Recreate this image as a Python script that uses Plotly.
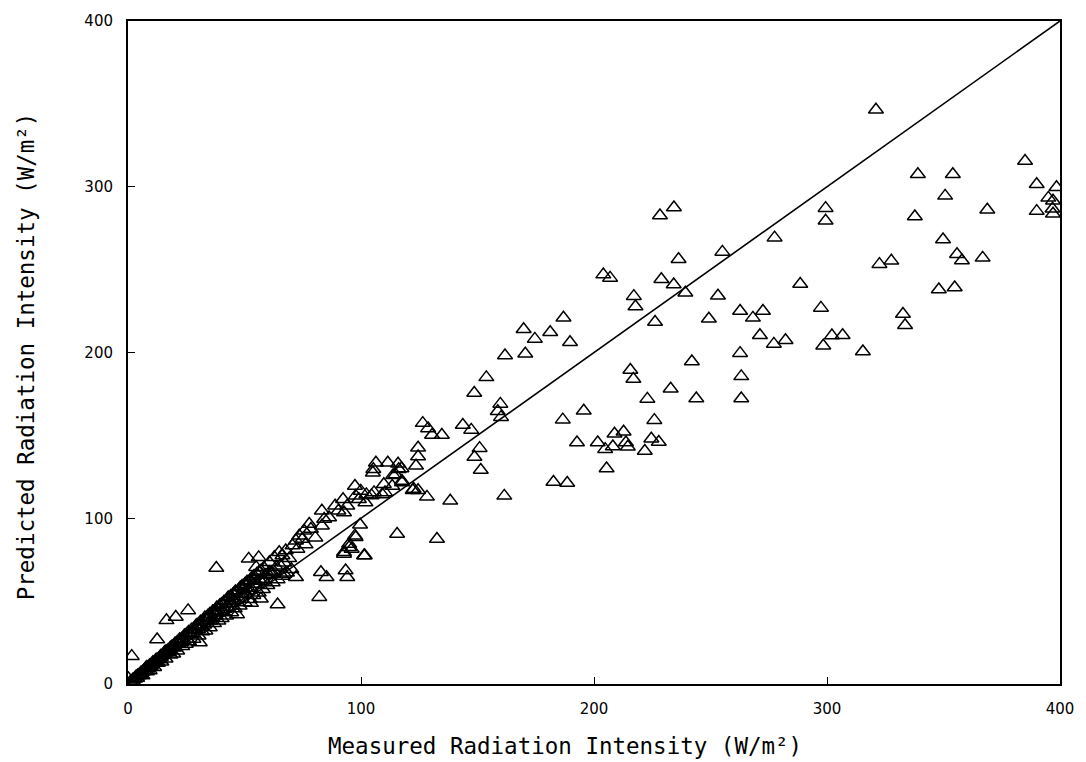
import plotly.graph_objects as go

# ---- Scattered observations: measured (x) and predicted (y), W/m^2 ----
measured_high = [
    321, 385, 390, 398.5, 395, 397, 390, 397, 396.8, 339,
    354, 350.7, 368.8, 337.7, 299.4, 299.4, 277.5, 349.8, 355.8, 357.9,
    366.8, 322.5, 327.6, 288.5, 348, 354.8, 297.4, 332.6, 333.5, 262.7,
    268.2, 272.5, 271.2, 277.2, 282.2, 298.4, 302.1, 306.7, 315.4, 262.7,
    263.2,
]
predicted_high = [
    346.5, 315.5, 301.5, 299.7, 293.3, 291.6, 285.3, 283.7, 286.7, 307.5,
    307.5, 294.5, 286.1, 282, 287.1, 279.5, 269.3, 268.2, 259.3, 255.5,
    257.1, 253.3, 255.3, 241.3, 238, 239.2, 226.9, 223.2, 216.4, 225,
    220.9, 225, 210.4, 205.2, 207.4, 204.1, 210.2, 210.4, 200.6, 199.6,
    185.6,
]

measured_mid = [
    228.3, 234.3, 236.3, 255.1, 204, 206.9, 228.9, 234.2, 239.2, 217.1,
    217.8, 253.2, 226.2, 249.3, 186.9, 169.8, 181.2, 174.6, 189.7, 161.8,
    170.5, 153.8, 148.6, 159.8, 158.7, 160.1, 242, 263.2, 215.6, 216.9,
    232.9, 222.9, 243.9, 195.6, 186.6, 225.9, 192.7, 201.6, 208.8, 212.7,
    213.7, 204.8, 208.1, 214.5, 221.8, 224.6, 227.8, 205.4, 182.6, 188.5,
    161.5, 126.5, 128.8, 130.5, 134.7, 143.7, 147.3, 150.9, 148.7, 151.4,
    124.5, 124.5, 123.6, 122.2, 124.5, 117.4, 117.6, 128.3, 138.3,
]
predicted_mid = [
    282.7, 287.5, 256.3, 260.7, 247, 245, 244.2, 241, 236, 234,
    227.8, 234.2, 218.4, 220.4, 221, 214, 212.2, 208.2, 206.2, 198.2,
    199.2, 185, 175.6, 169, 164.6, 161, 194.6, 172.2, 189.4, 184,
    178.1, 172, 172.2, 164.9, 159.5, 159.2, 145.7, 145.7, 151, 152.2,
    145.7, 141.7, 143.3, 143.1, 140.6, 148, 146, 130, 121.9, 121.3,
    113.5, 157.4, 154.2, 150.2, 150.2, 156.3, 153.3, 142.3, 137, 129.1,
    142.5, 137.3, 131.7, 116.9, 116.9, 130, 121.5, 112.9, 110.5,
]

measured_low = [
    106.4, 111.5, 115.9, 105.3, 116.2, 113.8, 109.8, 113.4, 97.4, 99.9,
    102.3, 104.5, 109.1, 115.5, 132.6, 99.6, 97.4, 94.9, 92.7, 101.6,
    93.4, 94.1, 82.8, 85.2, 82.1, 72.1, 64.2, 57.0, 52.8, 46.8,
    37.9, 51.8, 56.1, 25.8, 20.5, 16.5, 30.8, 12.5, 1.6, 0.2,
    122.6, 105.6, 110.3, 97.7, 99.1, 101.9, 105.1, 114.8, 117.6,
]
predicted_low = [
    133.5, 133.5, 132.9, 129.6, 129.6, 126, 120.5, 119.5, 119.5, 116.5,
    114.4, 113.8, 114.4, 90.5, 87.5, 96.1, 89.5, 84.5, 79.5, 77.5,
    68.5, 64.4, 67.4, 64.4, 52.4, 64.4, 48.0, 51.4, 48.8, 42.0,
    70.0, 75.5, 76.4, 44.4, 40.4, 38.4, 25.0, 26.8, 16.8, 3.4,
    117.6, 115.6, 115.6, 113.5, 111.5, 109.5, 127.5, 126.4, 122.5,
]

# ---- Dense cluster near the origin (estimated where markers overlap) ----
measured_band_upper = [
    1, 2, 3, 3.5, 4.2, 5, 5.6, 6.3, 7.1, 7.6,
    8.4, 9.2, 10, 10.7, 11.3, 12.2, 13.1, 14, 14.8, 15.7,
    16.3, 17.2, 18.1, 19, 20.2, 21, 22.1, 23, 24.2, 25.1,
    26, 27.2, 28.1, 29.3, 30.2, 31.1, 32.3, 33, 34.2, 35.1,
    36.3, 37.2, 38.1, 39.3, 40.1, 41.2, 42.3, 43, 44.1, 45.2,
    46.1, 47.3, 48.2, 49, 50.2, 51.1, 52.3, 53.2, 54.1, 55.3,
    56.2, 57.1, 58.3, 60.7, 62.8, 64.9, 66.3, 67.7, 70.6, 72.7,
    72.1, 73.5, 74.9, 75.6, 77.8, 78.5, 83.2, 84.2, 86.3, 83.2,
    88.9, 90.3, 92.7, 92.3, 94.1,
]
predicted_band_upper = [
    1.3, 2.6, 3.2, 4.6, 5.1, 5.4, 7.0, 7.4, 8.3, 9.6,
    9.2, 11.1, 11.8, 13.2, 12.8, 14.6, 15.3, 16.9, 17.4, 19.2,
    19.7, 20.3, 21.8, 22.6, 24.4, 25.1, 26.8, 27.2, 29.3, 30.1,
    31.4, 32.8, 33.2, 35.4, 36.1, 37.6, 38.3, 40.2, 41.1, 42.3,
    43.8, 44.2, 46.1, 47.3, 48.2, 49.7, 50.4, 52.2, 53.1, 54.3,
    55.8, 56.4, 58.2, 59.1, 60.3, 61.7, 62.4, 64.1, 65.2, 66.4,
    67.6, 68.3, 70.1, 73.5, 76.5, 79.5, 77.5, 80.5, 83.5, 81.5,
    86.5, 89.5, 87.5, 92.5, 96.5, 93.5, 95.5, 99.5, 100.5, 104.5,
    107.5, 104.5, 103.5, 111.5, 107.5,
]

measured_band_mid = [
    5.3, 9.8, 13.6, 17.4, 20.3, 22.8, 25.2, 27.6, 30.1, 32.7,
    35.3, 37.6, 40.2, 42.7, 45.1, 47.4, 50.3, 52.6, 55.2, 57.8,
    60.1, 60.7, 55.0, 58.4, 62.5, 65.3, 67.1, 69.2, 97.7, 94.9,
    96.0, 92.7, 101.3, 67.1, 76.2, 80.4,
]
predicted_band_mid = [
    6.0, 10.9, 14.8, 19.3, 22.1, 25.3, 27.2, 30.4, 33.1, 35.8,
    38.2, 41.3, 44.1, 46.5, 50.2, 51.8, 55.1, 57.9, 60.3, 63.4,
    66.2, 67.4, 70.5, 62.3, 68.1, 71.4, 73.2, 75.8, 88.5, 82.5,
    81.5, 78.5, 77.5, 66.3, 84.1, 88.3,
]

measured_band_extra = [
    2.8, 4.6, 6.9, 8.8, 10.4, 12.3, 14.1, 15.4, 17.8, 19.7,
    21.6, 23.8, 26.7, 28.9, 31.4, 33.8, 36.2, 38.3, 41.4, 43.6,
    46.3, 48.7, 51.4, 53.9, 56.8, 59.2, 61.6, 63.7, 8.1, 11.9,
    15.8, 18.6, 22.4, 26.1, 29.7, 34.1, 37.9, 44.8, 49.6, 54.3,
]
predicted_band_extra = [
    3.4, 5.3, 8.1, 9.7, 12.2, 13.6, 16.2, 18.1, 20.3, 21.9,
    24.8, 26.6, 29.9, 32.7, 34.6, 38.4, 39.8, 43.1, 45.2, 48.9,
    50.6, 54.2, 56.3, 60.2, 62.1, 65.8, 67.3, 70.4, 10.3, 14.4,
    18.7, 22.3, 26.5, 30.8, 34.6, 39.8, 43.9, 51.6, 57.3, 62.7,
]

measured_band_lower = [
    2.1, 3.9, 6.2, 8.1, 9.3, 11.2, 12.8, 14.3, 16.1, 18.2,
    19.4, 21.1, 23.3, 24.8, 26.2, 28.1, 30.3, 31.8, 33.2, 35.1,
    36.9, 38.8, 40.2, 42.1, 44.3, 45.8, 47.9, 50.1, 52.2, 53.8,
    56.1, 57.9, 59.8, 62.1, 64.2, 66.1, 68.2, 70.1,
]
predicted_band_lower = [
    1.6, 3.6, 5.1, 7.6, 8.2, 10.1, 12.6, 13.4, 15.2, 17.6,
    18.3, 20.1, 22.7, 24.1, 25.6, 27.2, 29.1, 31.6, 32.2, 34.1,
    36.6, 38.1, 39.6, 41.2, 43.1, 45.6, 47.2, 49.1, 51.2, 53.6,
    55.1, 57.2, 59.6, 61.2, 63.1, 65.2, 67.1, 69.2,
]

# 1:1 reference line
line_x = [0, 400]
line_y = [0, 400]

x_ticks = [0, 100, 200, 300, 400]
y_ticks = [0, 100, 200, 300, 400]

groups = [
    (measured_band_upper, predicted_band_upper),
    (measured_band_mid, predicted_band_mid),
    (measured_band_extra, predicted_band_extra),
    (measured_band_lower, predicted_band_lower),
    (measured_low, predicted_low),
    (measured_mid, predicted_mid),
    (measured_high, predicted_high),
]
for gx, gy in groups:
    assert len(gx) == len(gy), (len(gx), len(gy))

FONT = "DejaVu Sans"
TITLE_FONT = "DejaVu Sans Mono"

fig = go.Figure()
fig.add_trace(go.Scatter(
    x=line_x, y=line_y, mode="lines",
    line=dict(color="black", width=1.6), hoverinfo="skip", showlegend=False,
))
for gx, gy in groups:
    fig.add_trace(go.Scatter(
        x=gx, y=gy, mode="markers",
        marker=dict(symbol="triangle-up-open", size=13, color="black",
                    line=dict(color="black", width=1.5)),
        showlegend=False,
    ))

axis_common = dict(
    showgrid=False, zeroline=False, showline=True, linecolor="black", linewidth=2,
    mirror=True, ticks="inside", ticklen=7, tickwidth=1.2, tickcolor="black",
    tickfont=dict(family=FONT, size=15, color="black"), ticklabelstandoff=10,
)

fig.update_xaxes(range=[0, 400], tickvals=x_ticks, ticktext=[str(v) for v in x_ticks],
                 **axis_common)
fig.update_yaxes(range=[0, 400], tickvals=y_ticks, ticktext=[str(v) for v in y_ticks],
                 **axis_common)

fig.update_layout(
    width=1086, height=762,
    margin=dict(l=128, r=19, t=18, b=78),
    paper_bgcolor="white", plot_bgcolor="white",
    annotations=[
        dict(text="Measured Radiation Intensity (W/m²)", xref="paper", yref="paper",
             x=0.469, y=-0.094, xanchor="center", yanchor="middle", showarrow=False,
             font=dict(family=TITLE_FONT, size=22.5, color="black")),
        dict(text="Predicted Radiation Intensity (W/m²)", xref="paper", yref="paper",
             x=-0.11, y=0.495, xanchor="center", yanchor="middle", showarrow=False,
             textangle=-90, font=dict(family=TITLE_FONT, size=22.5, color="black")),
    ],
)

fig.write_html("out.html")
